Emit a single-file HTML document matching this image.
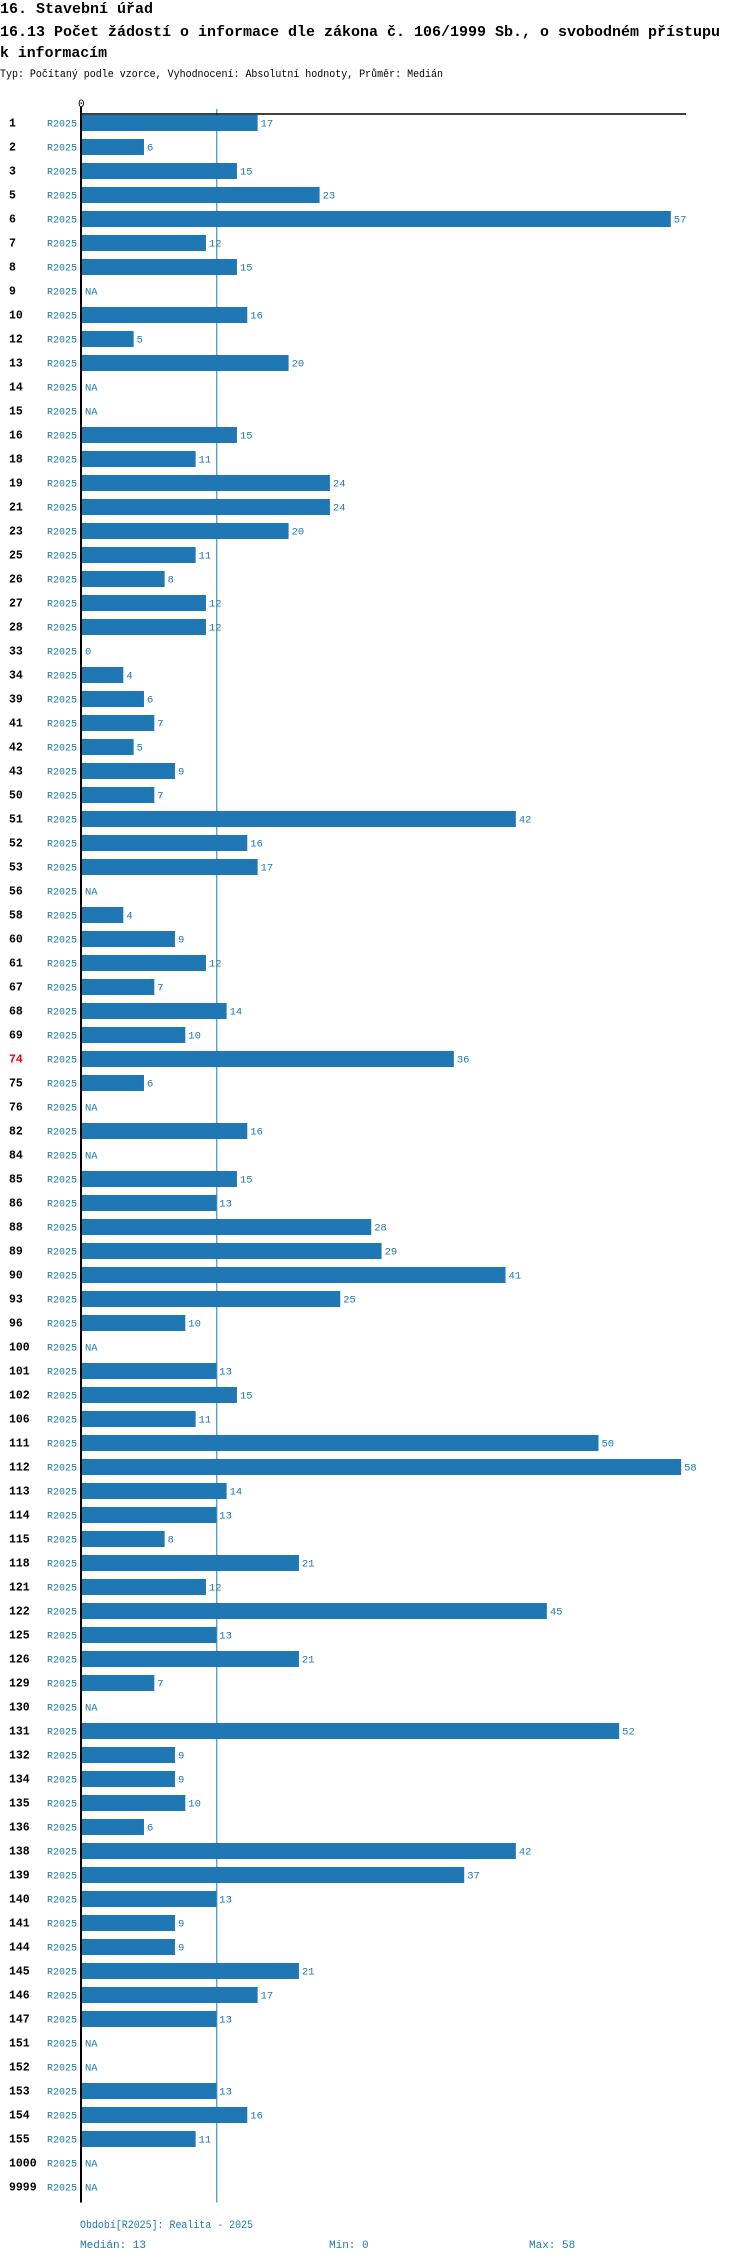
<!DOCTYPE html>
<html><head><meta charset="utf-8">
<style>
html,body{margin:0;padding:0;background:#fff;}
svg{display:block;}
text{font-family:"Liberation Mono","DejaVu Sans Mono",monospace;}
</style></head>
<body>
<svg id="chart" width="750" height="2262" xmlns="http://www.w3.org/2000/svg">
<text x="0" y="13" font-size="15" font-weight="bold" textLength="153" lengthAdjust="spacingAndGlyphs">16. Stavební úřad</text>
<text x="0" y="36" font-size="15" font-weight="bold" textLength="720" lengthAdjust="spacingAndGlyphs">16.13 Počet žádostí o informace dle zákona č. 106/1999 Sb., o svobodném přístupu</text>
<text x="0" y="57" font-size="15" font-weight="bold" textLength="107" lengthAdjust="spacingAndGlyphs">k informacím</text>
<text x="0" y="77" font-size="11" textLength="443" lengthAdjust="spacingAndGlyphs">Typ: Počítaný podle vzorce, Vyhodnocení: Absolutní hodnoty, Průměr: Medián</text>
<g id="marks"></g>
<text x="80" y="2228" font-size="11" fill="#1f77b4" textLength="173" lengthAdjust="spacingAndGlyphs">Období[R2025]: Realita - 2025</text>
<text x="80" y="2248" font-size="11" fill="#1f77b4">Medián: 13</text>
<text x="329" y="2248" font-size="11" fill="#1f77b4">Min: 0</text>
<text x="529" y="2248" font-size="11" fill="#1f77b4">Max: 58</text>
</svg>
<script>
const categories = ["1","2","3","5","6","7","8","9","10","12","13","14","15","16","18","19","21","23","25","26","27","28","33","34","39","41","42","43","50","51","52","53","56","58","60","61","67","68","69","74","75","76","82","84","85","86","88","89","90","93","96","100","101","102","106","111","112","113","114","115","118","121","122","125","126","129","130","131","132","134","135","136","138","139","140","141","144","145","146","147","151","152","153","154","155","1000","9999"];
const values = [17,6,15,23,57,12,15,null,16,5,20,null,null,15,11,24,24,20,11,8,12,12,0,4,6,7,5,9,7,42,16,17,null,4,9,12,7,14,10,36,6,null,16,null,15,13,28,29,41,25,10,null,13,15,11,50,58,14,13,8,21,12,45,13,21,7,null,52,9,9,10,6,42,37,13,9,9,21,17,13,null,null,13,16,11,null,null];
const highlighted = ["74"];
const medianValue = 13;
const axisTickLabels = ["0"];

const NS = "http://www.w3.org/2000/svg";
const x0 = 82, unit = 10.33, rowTop = 122.5, pitch = 24;
const xs = v => x0 + v * unit;
const ys = i => rowTop + i * pitch;
const g = document.getElementById('marks');
function mk(tag, attrs, txt){
  const e = document.createElementNS(NS, tag);
  for (const k in attrs) e.setAttribute(k, attrs[k]);
  if (txt !== undefined) e.textContent = txt;
  g.appendChild(e);
  return e;
}
const lastY = ys(categories.length - 1) + 16;
const med = mk('line', {x1: xs(medianValue) + 0.5, x2: xs(medianValue) + 0.5, y1: 109, y2: lastY, stroke: '#1f77b4', 'stroke-width': 1});


const tAxis = mk('line', {x1: 80, x2: 686, y1: 114, y2: 114, stroke: '#000', 'stroke-width': 1.5});


const tick = mk('text', {x: 78, y: 107, 'font-size': 11}, axisTickLabels[0]);



categories.forEach((c, i) => {
  const cy = ys(i);
  const v = values[i];
  const lab = mk('text', {x: 9, y: cy + 4, 'font-size': 11.5, 'font-weight': 'bold', fill: highlighted.includes(c) ? '#e8000b' : '#000'}, c);
  
  
  const per = mk('text', {x: 47, y: cy + 4, 'font-size': 10, fill: '#1f77b4', textLength: 30, lengthAdjust: 'spacingAndGlyphs'}, 'R2025');
  
  
  if (v === null) {
    const na = mk('text', {x: 85, y: cy + 4, 'font-size': 10.5, fill: '#1f77b4'}, 'NA');
    
    
  } else {
    if (v > 0) {
      const b = mk('rect', {x: x0, y: cy - 7.5, width: xs(v) - x0, height: 16, fill: '#1f77b4'});
      
      
    }
    const vl = mk('text', {x: xs(v) + 3, y: cy + 4, 'font-size': 10.5, fill: '#1f77b4'}, String(v));
    
    
  }
});
const yAxis = mk('line', {x1: 81, x2: 81, y1: 107, y2: lastY, stroke: '#000', 'stroke-width': 2});


</script>
</body></html>
